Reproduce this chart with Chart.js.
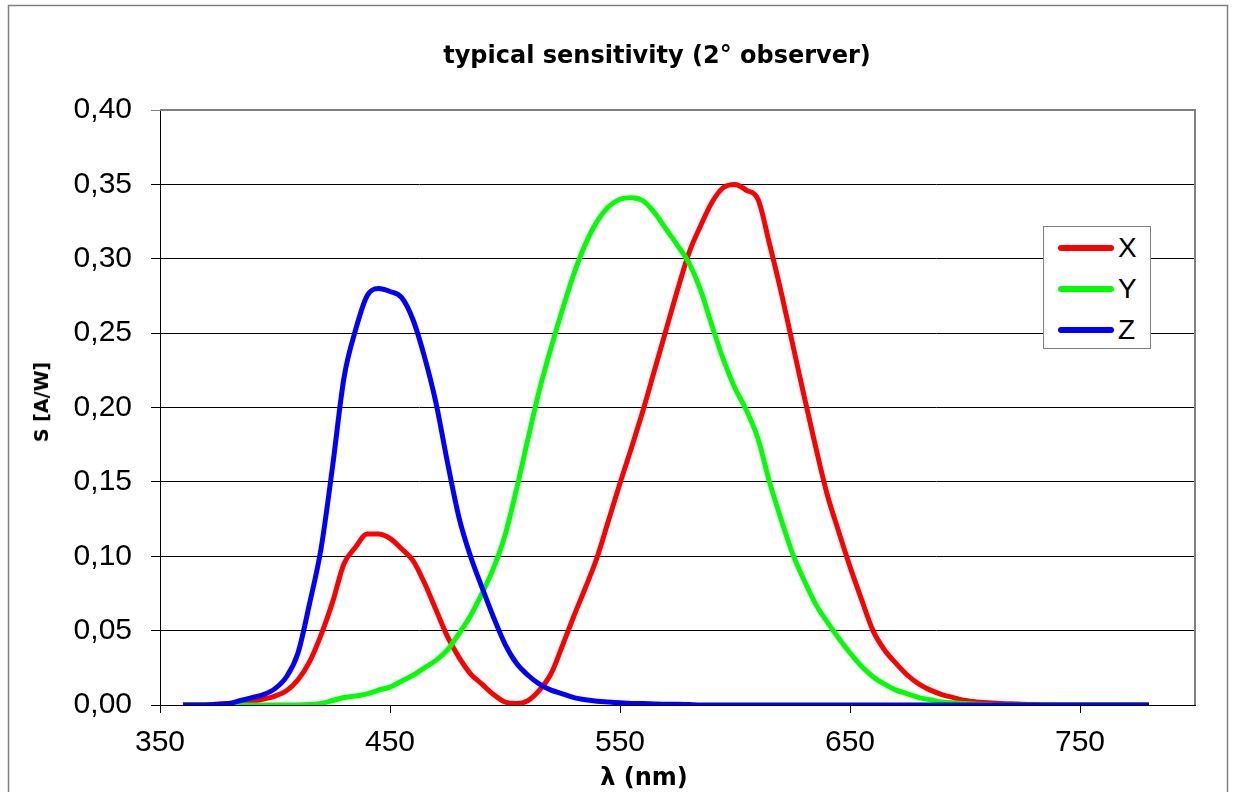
<!DOCTYPE html>
<html>
<head>
<meta charset="utf-8">
<script src="https://cdn.jsdelivr.net/npm/chart.js@4.4.1/dist/chart.umd.min.js"></script>
<style>
  body { margin: 0; background: #fff; overflow: hidden; }
  #wrap { position: relative; width: 1233px; height: 792px; }
  .txt { position: absolute; white-space: nowrap; color: #000; line-height: 1; }
</style>
</head>
<body>
<div id="wrap">
  <canvas id="chart" width="1233" height="792"></canvas>
</div>
<script>
// Wavelength grid (nm)
const wavelengths = [360,365,370,375,380,385,390,395,400,405,410,415,420,425,430,435,440,445,450,455,
  460,465,470,475,480,485,490,495,500,505,510,515,520,525,530,535,540,545,550,555,
  560,565,570,575,580,585,590,595,600,605,610,615,620,625,630,635,640,645,650,655,
  660,665,670,675,680,685,690,695,700,705,710,715,720,725,730,735,740,745,750,755,
  760,765,770,775,780];

// Sensitivity S [A/W] per channel
const xValues = [0,0,0,0.0005,0.001,0.0015,0.0025,0.004,0.006,0.0096,0.017,0.029,0.047,0.069,0.095,0.106,0.115,0.115,0.112,0.105,
  0.097,0.082,0.064,0.046,0.032,0.021,0.014,0.007,0.002,0.001,0.003,0.010,0.021,0.040,0.060,0.079,0.099,0.124,0.149,0.173,
  0.198,0.225,0.252,0.279,0.304,0.322,0.338,0.348,0.350,0.346,0.340,0.310,0.278,0.243,0.208,0.174,0.142,0.117,0.093,0.071,
  0.050,0.037,0.028,0.020,0.014,0.010,0.007,0.005,0.003,0.002,0.0015,0.001,0.0008,0.0005,0.0003,0,0,0,0,0,
  0,0,0,0,0];
const yValues = [0,0,0,0,0,0,0,0,0,0,0,0.0003,0.001,0.003,0.005,0.006,0.0075,0.010,0.012,0.016,
  0.020,0.025,0.030,0.037,0.048,0.060,0.075,0.092,0.114,0.145,0.179,0.212,0.240,0.266,0.290,0.310,0.325,0.335,0.340,0.341,
  0.339,0.331,0.320,0.309,0.297,0.279,0.255,0.232,0.213,0.198,0.179,0.150,0.125,0.102,0.084,0.068,0.056,0.045,0.035,0.026,
  0.019,0.014,0.010,0.0075,0.005,0.0035,0.002,0.0015,0.001,0.0005,0.0003,0,0,0,0,0,0,0,0,0,
  0,0,0,0,0];
const zValues = [0,0,0,0.0005,0.001,0.003,0.005,0.007,0.011,0.019,0.035,0.068,0.105,0.160,0.220,0.252,0.275,0.280,0.278,0.274,
  0.259,0.234,0.203,0.163,0.126,0.100,0.079,0.059,0.041,0.028,0.020,0.014,0.010,0.0075,0.005,0.0035,0.0025,0.002,0.0015,0.001,
  0.001,0.0007,0.0005,0.0005,0.0003,0,0,0,0,0,0,0,0,0,0,0,0,0,0,0,
  0,0,0,0,0,0,0,0,0,0,0,0,0,0,0,0,0,0,0,0,
  0,0,0,0,0];

const seriesLabels = ['X', 'Y', 'Z'];
const seriesColors = ['#ff0000', '#00ff00', '#0000ff'];

const xTicks = [350, 450, 550, 650, 750];
const yTicks = [0, 0.05, 0.10, 0.15, 0.20, 0.25, 0.30, 0.35, 0.40];

const toPoints = vals => wavelengths.map((w, i) => ({ x: w, y: vals[i] }));

const datasets = [xValues, yValues, zValues].map((vals, i) => ({
  label: seriesLabels[i],
  data: toPoints(vals),
  borderColor: seriesColors[i],
  backgroundColor: seriesColors[i],
  borderWidth: 5,
  pointRadius: 0,
  cubicInterpolationMode: 'monotone',
  fill: false,
  order: 2 - i   // Z drawn on top
}));

// gray frame on the top/right of the plot + outer chart border
const framePlugin = {
  id: 'frame',
  beforeDraw(chart) {
    const ctx = chart.ctx;
    ctx.save();
    ctx.strokeStyle = '#808080';
    ctx.lineWidth = 1.5;
    ctx.strokeRect(8.5, 5.5, 1219, 820);
    ctx.restore();
  },
  afterDatasetsDraw(chart) {
    const { ctx, chartArea: a } = chart;
    ctx.save();
    ctx.strokeStyle = '#808080';
    ctx.lineWidth = 2;
    ctx.beginPath();
    ctx.moveTo(a.left, a.top);
    ctx.lineTo(a.right, a.top);
    ctx.lineTo(a.right, a.bottom);
    ctx.stroke();
    ctx.restore();
  }
};

const tickFont = { family: '"Liberation Sans", Arial, sans-serif', size: 30 };

const chart = new Chart(document.getElementById('chart'), {
  type: 'line',
  data: { datasets },
  plugins: [framePlugin],
  options: {
    responsive: false,
    animation: false,
    layout: { padding: { left: 0, right: 38, top: 110, bottom: 0 } },
    plugins: {
      legend: { display: false },
      title: { display: false },
      tooltip: { enabled: false }
    },
    scales: {
      x: {
        type: 'linear',
        min: 350,
        max: 800,
        afterBuildTicks: s => { s.ticks = xTicks.map(v => ({ value: v })); },
        afterFit: s => { s.height = 87; },
        ticks: { font: tickFont, color: '#000', padding: 12, maxRotation: 0 },
        grid: { drawOnChartArea: false, drawTicks: true, tickLength: 8, color: '#000' },
        border: { color: '#000', width: 1 }
      },
      y: {
        min: 0,
        max: 0.4,
        afterBuildTicks: s => { s.ticks = yTicks.map(v => ({ value: v })); },
        afterFit: s => { s.width = 160; },
        ticks: {
          font: tickFont,
          color: '#000',
          padding: 19,
          callback: v => v.toFixed(2).replace('.', ',')
        },
        grid: {
          color: c => (c.tick && c.tick.value >= 0.4 ? '#808080' : '#000'),
          lineWidth: 1,
          tickLength: 9
        },
        border: { color: '#000', width: 1 }
      }
    }
  }
});

// Title, axis captions and legend as page text
const wrap = document.getElementById('wrap');

function addText(text, css) {
  const el = document.createElement('div');
  el.className = 'txt';
  el.textContent = text;
  el.style.cssText += css;
  wrap.appendChild(el);
  return el;
}

addText('typical sensitivity (2° observer)',
  'left: 657px; top: 55px; transform: translate(-50%, -50%); font: bold 24px "DejaVu Sans", Verdana, sans-serif;');
addText('S [A/W]',
  'left: 41px; top: 402px; transform: translate(-50%, -50%) rotate(-90deg); font: bold 19px "DejaVu Sans", Verdana, sans-serif;');
addText('λ (nm)',
  'left: 644px; top: 777px; transform: translate(-50%, -50%); font: bold 24px "DejaVu Sans", Verdana, sans-serif;');

const legend = document.createElement('div');
legend.style.cssText = 'position: absolute; left: 1043px; top: 226px; width: 108px; height: 123px; box-sizing: border-box; border: 1.5px solid #808080; background: #fff;';
wrap.appendChild(legend);

datasets.forEach((ds, i) => {
  const cy = 21 + i * 41;
  const sw = document.createElement('div');
  sw.style.cssText = `position: absolute; left: 14px; top: ${cy - 3}px; width: 56px; height: 6px; border-radius: 3px; background: ${ds.borderColor};`;
  legend.appendChild(sw);
  const lb = document.createElement('div');
  lb.className = 'txt';
  lb.textContent = ds.label;
  lb.style.cssText += `left: 74px; top: ${cy}px; transform: translateY(-50%); font: 28px "Liberation Sans", Arial, sans-serif;`;
  legend.appendChild(lb);
});
</script>
</body>
</html>
